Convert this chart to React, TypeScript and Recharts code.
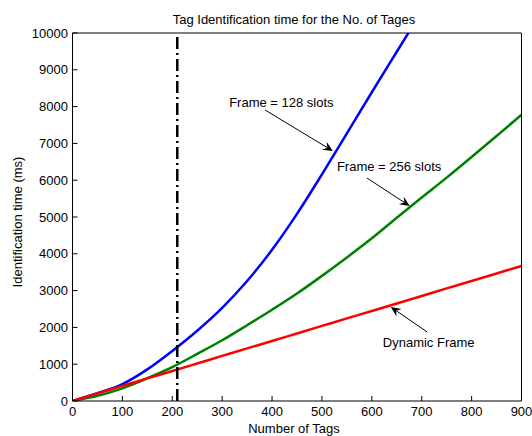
import { LineChart, Line, XAxis, YAxis, ReferenceLine, ReferenceDot } from 'recharts';

// number of tags (x)
const tags = [0, 50, 100, 150, 200, 250, 300, 350, 400, 450, 500, 550, 600, 650, 700, 750, 800, 850, 900];

// identification time (ms)
const frame128 = [0, 210, 460, 860, 1360, 1910, 2530, 3260, 4110, 5085, 6160, 7275, 8390, 9490, 10590, null, null, null, null];
const frame256 = [0, 140, 345, 620, 920, 1280, 1650, 2060, 2480, 2920, 3400, 3900, 4420, 4980, 5530, 6070, 6630, 7200, 7780];
const dynamicFrame = [0, 205, 410, 615, 815, 1020, 1225, 1430, 1630, 1835, 2040, 2245, 2445, 2650, 2855, 3060, 3260, 3465, 3670];

const xTicks = [0, 100, 200, 300, 400, 500, 600, 700, 800, 900];
const yTicks = [0, 1000, 2000, 3000, 4000, 5000, 6000, 7000, 8000, 9000, 10000];

const thresholdTags = 210;

// annotation text and arrows, in data units
const annotations = [
  { text: 'Frame = 128 slots', tx: 314, ty: 8125, from: { x: 386, y: 7908 }, to: { x: 522, y: 6793 } },
  { text: 'Frame = 256 slots', tx: 530, ty: 6386, from: { x: 590, y: 6060 }, to: { x: 676, y: 5299 } },
  { text: 'Dynamic Frame', tx: 622, ty: 1603, from: { x: 711, y: 1875 }, to: { x: 638, y: 2554 } },
];

const data = tags.map((t, i) => ({
  tag: t,
  f128: frame128[i],
  f256: frame256[i],
  dyn: dynamicFrame[i],
}));

const Arrow = (props: any) => {
  const { x1, y1, x2, y2 } = props;
  const ang = Math.atan2(y2 - y1, x2 - x1);
  const len = 10;
  const half = 4.5;
  const bx = x2 - len * Math.cos(ang);
  const by = y2 - len * Math.sin(ang);
  const nx = x2 - len * 0.65 * Math.cos(ang);
  const ny = y2 - len * 0.65 * Math.sin(ang);
  const px = -Math.sin(ang) * half;
  const py = Math.cos(ang) * half;
  return (
    <g>
      <line x1={x1} y1={y1} x2={nx} y2={ny} stroke="#000" strokeWidth={1} />
      <polygon
        points={`${x2},${y2} ${bx + px},${by + py} ${nx},${ny} ${bx - px},${by - py}`}
        fill="#000"
      />
    </g>
  );
};

const textShape = (text: string) => (p: any) => (
  <text x={p.cx} y={p.cy} dy="0.35em" fontSize={13} fill="#000" textAnchor="start">
    {text}
  </text>
);

const axisLine = { stroke: '#000', strokeWidth: 1 };

export default function App() {
  return (
    <div style={{ position: 'absolute', left: 0, top: 0, fontFamily: '"Liberation Sans", Arial, sans-serif' }}>
      <LineChart
        width={532}
        height={436}
        data={data}
        margin={{ top: 32, right: 9.5, bottom: 0, left: 0 }}
      >
        <XAxis
          dataKey="tag"
          type="number"
          domain={[0, 900]}
          ticks={xTicks}
          allowDataOverflow
          height={35}
          tickSize={-5}
          tickMargin={11}
          axisLine={axisLine}
          tickLine={axisLine}
          tick={{ fill: '#000', fontSize: 13 }}
          label={{
            content: () => (
              <g>
                <text x={294} y={433} fontSize={13} fill="#000" textAnchor="middle">
                  Number of Tags
                </text>
                <text x={294} y={24} fontSize={13} fill="#000" textAnchor="middle">
                  Tag Identification time for the No. of Tages
                </text>
              </g>
            ),
          }}
        />
        <XAxis
          xAxisId="top"
          dataKey="tag"
          orientation="top"
          type="number"
          domain={[0, 900]}
          ticks={xTicks}
          allowDataOverflow
          height={1}
          tickSize={-5}
          axisLine={axisLine}
          tickLine={axisLine}
          tick={false}
        />
        <YAxis
          type="number"
          domain={[0, 10000]}
          ticks={yTicks}
          allowDataOverflow
          width={72.5}
          tickSize={-5}
          tickMargin={9.5}
          axisLine={axisLine}
          tickLine={axisLine}
          tick={{ fill: '#000', fontSize: 13 }}
          label={{
            content: () => (
              <text x={22} y={222} fontSize={13} fill="#000" textAnchor="middle" transform="rotate(-90, 22, 222)">
                Identification time (ms)
              </text>
            ),
          }}
        />
        <YAxis
          yAxisId="right"
          orientation="right"
          type="number"
          domain={[0, 10000]}
          ticks={yTicks}
          allowDataOverflow
          width={1}
          tickSize={-5}
          axisLine={axisLine}
          tickLine={axisLine}
          tick={false}
        />
        {/* invisible series so the box axes (top / right) get drawn */}
        <Line xAxisId="top" yAxisId="right" dataKey="dyn" stroke="none" dot={false} activeDot={false} isAnimationActive={false} />
        <Line type="monotone" dataKey="f128" stroke="#0000ff" strokeWidth={2.5} dot={false} isAnimationActive={false} />
        <Line type="monotone" dataKey="f256" stroke="#008000" strokeWidth={2.5} dot={false} isAnimationActive={false} />
        <Line type="monotone" dataKey="dyn" stroke="#ff0000" strokeWidth={2.5} dot={false} isAnimationActive={false} />
        <ReferenceLine x={thresholdTags} stroke="#000" strokeWidth={2.5} strokeDasharray="12 4 2 4" />
        {annotations.map((a) => (
          <ReferenceLine
            key={a.text + '-arrow'}
            segment={[a.from, a.to]}
            shape={Arrow}
          />
        ))}
        {annotations.map((a) => (
          <ReferenceDot
            key={a.text}
            x={a.tx}
            y={a.ty}
            r={0}
            shape={textShape(a.text)}
          />
        ))}
      </LineChart>
    </div>
  );
}
